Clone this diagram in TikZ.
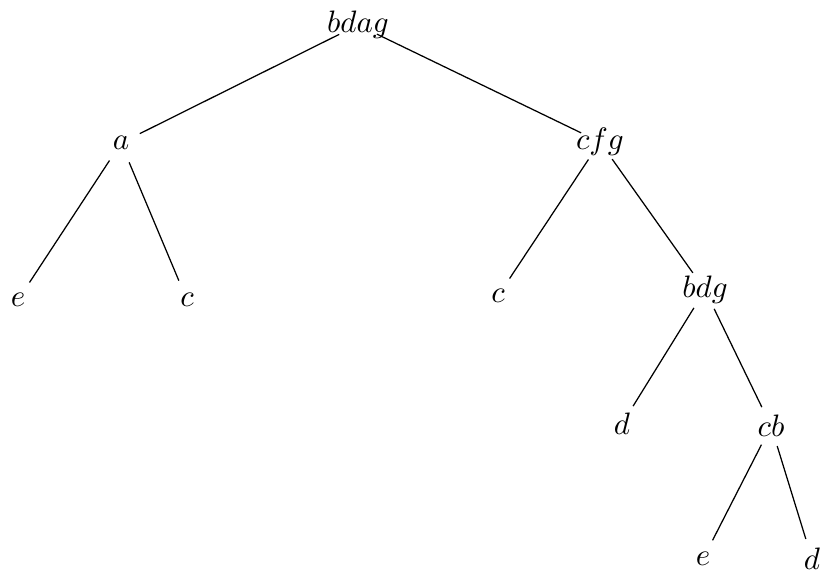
\documentclass[tikz,border=0pt]{standalone}
\usepackage{graphicx}
\usepackage{tikz}

\newcommand{\bigtxt}[1]{\scalebox{3.1}{$#1$}}

\begin{document}
\begin{tikzpicture}[
  x=1pt, y=-1pt,
  lab/.style={inner sep=0pt},
  br/.style={line width=1.25pt, shorten <=21pt, shorten >=21pt}
]
\useasboundingbox (0,0) rectangle (827,575);

\node[lab] (bdag) at (358,25)  {\bigtxt{bdag}};
\node[lab] (a)    at (121,143) {\bigtxt{a}};
\node[lab] (cfg)  at (600,142) {\bigtxt{cfg}};
\node[lab] (e1)   at (18,300)  {\bigtxt{e}};
\node[lab] (c1)   at (187,300) {\bigtxt{c}};
\node[lab] (c2)   at (498,296) {\bigtxt{c}};
\node[lab] (bdg)  at (705,290) {\bigtxt{bdg}};
\node[lab] (d1)   at (622,424) {\bigtxt{d}};
\node[lab] (cb)   at (771,426) {\bigtxt{cb}};
\node[lab] (e2)   at (703,559) {\bigtxt{e}};
\node[lab] (d2)   at (812,559) {\bigtxt{d}};

\draw[br] (bdag.center) -- (a.center);
\draw[br] (bdag.center) -- (cfg.center);
\draw[br] (a.center)    -- (e1.center);
\draw[br] (a.center)    -- (c1.center);
\draw[br] (cfg.center)  -- (c2.center);
\draw[br] (cfg.center)  -- (bdg.center);
\draw[br] (bdg.center)  -- (d1.center);
\draw[br] (bdg.center)  -- (cb.center);
\draw[br] (cb.center)   -- (e2.center);
\draw[br] (cb.center)   -- (d2.center);

\end{tikzpicture}
\end{document}
